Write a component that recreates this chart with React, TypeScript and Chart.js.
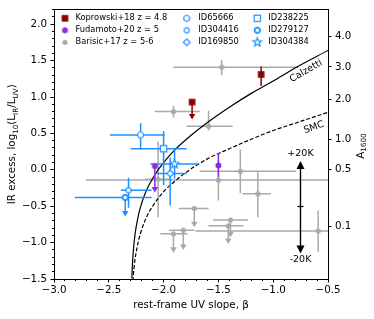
import React, { useEffect, useRef } from 'react';
import { Chart, registerables } from 'chart.js';

Chart.register(...registerables);

const FONT = '"DejaVu Sans", "Noto Sans", sans-serif';
const RED = '#8b0000';
const PURPLE = '#8a2be2';
const GRAY = '#a9a9a9';
const BLUE = '#1e90ff';

// ---------------- data ----------------
// Koprowski+18 z = 4.8
const kopBeta = [-1.11, -1.74];
const kopIRX = [1.31, 0.93];
const kopBetaErrLeft = [0, 0];
const kopBetaErrRight = [0, 0];
const kopIRXErrUp = [0.11, 0];
const kopIRXErrDown = [0.16, 0.24];
const kopUpperLimit = [false, true];

// Fudamoto+20 z = 5
const fudBeta = [-1.5, -2.08];
const fudIRX = [0.06, 0.05];
const fudBetaErrLeft = [0, 0];
const fudBetaErrRight = [0, 0];
const fudIRXErrUp = [0.17, 0];
const fudIRXErrDown = [0.16, 0.36];
const fudUpperLimit = [false, true];

// Barisic+17 z = 5-6
const barBeta = [-1.47, -1.91, -1.59, -1.3, -1.14, -1.5, -2.05, -0.59, -1.72, -1.39, -1.41, -1.91, -1.82];
const barIRX = [1.41, 0.8, 0.6, -0.02, -0.33, -0.14, -0.13, -0.84, -0.53, -0.69, -0.77, -0.88, -0.83];
const barBetaErrLeft = [0.44, 0.17, 0.2, 0.37, 0.14, 1.21, 0.12, 1.12, 0.14, 0.16, 0.18, 0.12, 0.13];
const barBetaErrRight = [0.7, 0.24, 0.22, 0.51, 0.12, 1.21, 0.12, 1.12, 0.13, 0.16, 0.14, 0.13, 0.1];
const barIRXErrUp = [0.1, 0.08, 0.21, 0.3, 0.3, 0.28, 0.52, 0.28, 0, 0, 0, 0, 0];
const barIRXErrDown = [0.11, 0.08, 0.06, 0.3, 0.32, 0.28, 0.52, 0.29, 0.26, 0.24, 0.25, 0.26, 0.27];
const barUpperLimit = [false, false, false, false, false, false, false, false, true, true, true, true, true];

// This work: individual IDs
const idNames = ['ID65666', 'ID304416', 'ID169850', 'ID238225', 'ID279127', 'ID304384'];
const idBeta = [-2.21, -2.32, -1.94, -2.0, -2.35, -1.9];
const idIRX = [0.48, -0.28, -0.05, 0.29, -0.38, 0.08];
const idBetaErrLeft = [0.28, 0.07, 0.14, 0.3, 0.46, 0.22];
const idBetaErrRight = [0.22, 0.21, 0.15, 0.21, 0.24, 0.22];
const idIRXErrUp = [0.16, 0.17, 0.22, 0.24, 0, 0.2];
const idIRXErrDown = [0.2, 0.24, 0.44, 0.5, 0.26, 0.2];
const idUpperLimit = [false, false, false, false, true, false];

// Dust curves
const calzettiBeta = [-2.29, -2.285, -2.28, -2.27, -2.26, -2.25, -2.24, -2.22, -2.2, -2.18, -2.15, -2.1, -2.05, -2.0, -1.9, -1.8, -1.6, -1.4, -1.2, -1.0, -0.8, -0.5];
const calzettiIRX = [-1.49, -1.32, -1.19, -1.01, -0.88, -0.78, -0.7, -0.56, -0.46, -0.37, -0.26, -0.12, 0.0, 0.1, 0.27, 0.41, 0.65, 0.86, 1.05, 1.22, 1.4, 1.64];
const smcBeta = [-2.28, -2.275, -2.27, -2.26, -2.25, -2.23, -2.2, -2.15, -2.1, -2.0, -1.9, -1.8, -1.6, -1.4, -1.2, -1.0, -0.8, -0.5];
const smcIRX = [-1.53, -1.43, -1.35, -1.22, -1.13, -0.98, -0.82, -0.63, -0.5, -0.3, -0.16, -0.04, 0.15, 0.29, 0.42, 0.54, 0.64, 0.79];

// Right axis A1600 ticks
const a1600Ticks = [0.1, 0.5, 1.0, 2.0, 3.0, 4.0];
const a1600Labels = ['0.1', '0.5', '1.0', '2.0', '3.0', '4.0'];
const irxFromA = (a: number) => Math.log10(1.75 * (Math.pow(10, 0.4 * a) - 1));

// Temperature arrow annotation
const tempArrowBeta = -0.75;
const tempArrowMid = -0.5;
const tempArrowTop = 0.12;
const tempArrowBottom = -1.15;
const tempLabels = ['+20K', '-20K'];

// Curve labels
const calzettiLabel = { text: 'Calzetti', beta: -0.7, irx: 1.356, angle: -30 };
const smcLabel = { text: 'SMC', beta: -0.628, irx: 0.581, angle: -19 };

// ---------------- markers ----------------
function mk(size: number, draw: (g: CanvasRenderingContext2D) => void) {
  const c = document.createElement('canvas');
  c.width = size;
  c.height = size;
  const g = c.getContext('2d')!;
  g.translate(size / 2, size / 2);
  draw(g);
  return c;
}
function polyPath(g: CanvasRenderingContext2D, pts: number[][]) {
  g.beginPath();
  pts.forEach(([px, py], i) => (i ? g.lineTo(px, py) : g.moveTo(px, py)));
  g.closePath();
}
function regular(n: number, r: number, rot: number) {
  const out: number[][] = [];
  for (let i = 0; i < n; i++) {
    const a = rot + (i * 2 * Math.PI) / n;
    out.push([r * Math.cos(a), r * Math.sin(a)]);
  }
  return out;
}
function starPts(ro: number, ri: number) {
  const out: number[][] = [];
  for (let i = 0; i < 10; i++) {
    const a = -Math.PI / 2 + (i * Math.PI) / 5;
    const r = i % 2 === 0 ? ro : ri;
    out.push([r * Math.cos(a), r * Math.sin(a)]);
  }
  return out;
}
function openShape(pts: number[][] | null, circleR: number, lw = 1.2) {
  return mk(13, (g) => {
    if (pts) polyPath(g, pts);
    else {
      g.beginPath();
      g.arc(0, 0, circleR, 0, Math.PI * 2);
    }
    g.fillStyle = '#fff';
    g.fill();
    g.strokeStyle = BLUE;
    g.lineWidth = lw;
    g.stroke();
  });
}
function buildMarkers() {
  const redSquare = mk(11, (g) => {
    g.fillStyle = RED;
    g.fillRect(-3.3, -3.3, 6.6, 6.6);
  });
  const purpleHex = mk(11, (g) => {
    polyPath(g, regular(6, 3.3, Math.PI / 2));
    g.fillStyle = PURPLE;
    g.fill();
  });
  const grayDot = mk(9, (g) => {
    g.beginPath();
    g.arc(0, 0, 2.6, 0, Math.PI * 2);
    g.fillStyle = GRAY;
    g.fill();
  });
  const ids = [
    openShape(null, 3.0),
    openShape(regular(6, 2.8, Math.PI / 2), 0),
    openShape(regular(4, 3.4, Math.PI / 2), 0),
    openShape([[-3.1, -3.1], [3.1, -3.1], [3.1, 3.1], [-3.1, 3.1]], 0),
    openShape(regular(8, 2.8, Math.PI / 8), 0, 1.8),
    openShape(starPts(4.6, 2.0), 0),
  ];
  return { redSquare, purpleHex, grayDot, ids };
}

// ---------------- helpers ----------------
const fmt = (v: number) => {
  const s = (Math.abs(v) < 1e-9 ? 0 : v).toFixed(1);
  return s.replace('-', '\u2212');
};
const alignPx = (p: number) => Math.round(p - 0.5) + 0.5;

function drawRich(ctx: CanvasRenderingContext2D, segs: { t: string; sub?: boolean }[], x: number, y: number, rot: number, size: number) {
  ctx.save();
  ctx.translate(x, y);
  ctx.rotate(rot);
  ctx.textBaseline = 'alphabetic';
  ctx.textAlign = 'left';
  ctx.fillStyle = '#000';
  let total = 0;
  const widths = segs.map((s) => {
    ctx.font = `${s.sub ? size * 0.7 : size}px ${FONT}`;
    const w = ctx.measureText(s.t).width;
    total += w;
    return w;
  });
  let cx = -total / 2;
  segs.forEach((s, i) => {
    ctx.font = `${s.sub ? size * 0.7 : size}px ${FONT}`;
    ctx.fillText(s.t, cx, s.sub ? size * 0.22 : 0);
    cx += widths[i];
  });
  ctx.restore();
}

const errorBarPlugin = {
  id: 'errorBars',
  beforeDatasetDraw(chart: any, args: any) {
    const ds = chart.data.datasets[args.index];
    const e = ds.err;
    if (!e) return;
    const { ctx, chartArea: a } = chart;
    const x = chart.scales.x;
    const y = chart.scales.y;
    ctx.save();
    ctx.beginPath();
    ctx.rect(a.left, a.top, a.right - a.left, a.bottom - a.top);
    ctx.clip();
    ctx.strokeStyle = e.color;
    ctx.fillStyle = e.color;
    ctx.lineWidth = e.width;
    e.beta.forEach((b: number, i: number) => {
      const v = e.irx[i];
      const px = x.getPixelForValue(b);
      const py = y.getPixelForValue(v);
      if (e.left[i] || e.right[i]) {
        ctx.beginPath();
        ctx.moveTo(x.getPixelForValue(b - e.left[i]), py);
        ctx.lineTo(x.getPixelForValue(b + e.right[i]), py);
        ctx.stroke();
      }
      if (e.limit[i]) {
        const end = y.getPixelForValue(v - e.down[i]);
        ctx.beginPath();
        ctx.moveTo(px, py);
        ctx.lineTo(px, end - 3);
        ctx.stroke();
        ctx.beginPath();
        ctx.moveTo(px - 3.3, end - 5.5);
        ctx.lineTo(px + 3.3, end - 5.5);
        ctx.lineTo(px, end);
        ctx.closePath();
        ctx.fill();
      } else if (e.up[i] || e.down[i]) {
        ctx.beginPath();
        ctx.moveTo(px, y.getPixelForValue(v + e.up[i]));
        ctx.lineTo(px, y.getPixelForValue(v - e.down[i]));
        ctx.stroke();
      }
    });
    ctx.restore();
  },
};

function makeDecorPlugin(markers: any) {
  return {
    id: 'decor',
    afterDraw(chart: any) {
      const { ctx, chartArea: a } = chart;
      const x = chart.scales.x;
      const y = chart.scales.y;
      ctx.save();
      ctx.strokeStyle = '#000';
      ctx.lineWidth = 1;
      // top spine
      ctx.beginPath();
      ctx.moveTo(a.left, alignPx(a.top));
      ctx.lineTo(a.right, alignPx(a.top));
      ctx.stroke();
      // minor ticks x
      for (let i = 0; i <= 25; i++) {
        if (i % 5 === 0) continue;
        const px = alignPx(x.getPixelForValue(-3 + i * 0.1));
        ctx.beginPath();
        ctx.moveTo(px, a.bottom);
        ctx.lineTo(px, a.bottom + 2);
        ctx.stroke();
      }
      // minor ticks y
      for (let i = 0; i <= 37; i++) {
        if (i % 5 === 0) continue;
        const py = alignPx(y.getPixelForValue(-1.5 + i * 0.1));
        ctx.beginPath();
        ctx.moveTo(a.left - 2, py);
        ctx.lineTo(a.left, py);
        ctx.stroke();
      }

      // axis titles
      drawRich(ctx, [{ t: 'IR excess, log' }, { t: '10', sub: true }, { t: '(L' }, { t: 'IR', sub: true }, { t: '/L' }, { t: 'UV', sub: true }, { t: ')' }], 15.3, (a.top + a.bottom) / 2, -Math.PI / 2, 10.3);
      drawRich(ctx, [{ t: 'A' }, { t: '1600', sub: true }], 364, 146, -Math.PI / 2, 10.3);
      drawRich(ctx, [{ t: 'rest-frame UV slope, \u03b2' }], (a.left + a.right) / 2, 308, 0, 10.3);

      // curve labels
      ctx.fillStyle = '#000';
      ctx.textAlign = 'center';
      ctx.textBaseline = 'middle';
      ctx.font = `9.5px ${FONT}`;
      [calzettiLabel, smcLabel].forEach((l) => {
        ctx.save();
        ctx.translate(x.getPixelForValue(l.beta), y.getPixelForValue(l.irx));
        ctx.rotate((l.angle * Math.PI) / 180);
        ctx.fillText(l.text, 0, 0);
        ctx.restore();
      });

      // temperature arrow
      const ax = alignPx(x.getPixelForValue(tempArrowBeta));
      const yTop = y.getPixelForValue(tempArrowTop);
      const yBot = y.getPixelForValue(tempArrowBottom);
      const yMid = alignPx(y.getPixelForValue(tempArrowMid));
      ctx.lineWidth = 1.4;
      ctx.beginPath();
      ctx.moveTo(ax, yTop + 6);
      ctx.lineTo(ax, yBot - 6);
      ctx.stroke();
      ctx.lineWidth = 1.2;
      ctx.beginPath();
      ctx.moveTo(ax - 3, yMid);
      ctx.lineTo(ax + 3, yMid);
      ctx.stroke();
      ctx.beginPath();
      ctx.moveTo(ax, yTop);
      ctx.lineTo(ax - 4, yTop + 8);
      ctx.lineTo(ax + 4, yTop + 8);
      ctx.closePath();
      ctx.fill();
      ctx.beginPath();
      ctx.moveTo(ax, yBot);
      ctx.lineTo(ax - 4, yBot - 8);
      ctx.lineTo(ax + 4, yBot - 8);
      ctx.closePath();
      ctx.fill();
      ctx.font = `9.5px ${FONT}`;
      ctx.fillText(tempLabels[0], ax, yTop - 7.5);
      ctx.fillText(tempLabels[1], ax, yBot + 6.5);

      // legend
      ctx.font = `8.3px ${FONT}`;
      ctx.textAlign = 'left';
      ctx.textBaseline = 'middle';
      const rows = [18.3, 30.3, 42.3];
      const col1 = [
        { m: markers.redSquare, t: 'Koprowski+18 z = 4.8' },
        { m: markers.purpleHex, t: 'Fudamoto+20 z = 5' },
        { m: markers.grayDot, t: 'Barisic+17 z = 5-6' },
      ];
      const cols = [
        { mx: 65, tx: 75.5, items: col1 },
        { mx: 186.7, tx: 198.3, items: [0, 1, 2].map((k) => ({ m: markers.ids[k], t: idNames[k] })) },
        { mx: 257.3, tx: 268.3, items: [3, 4, 5].map((k) => ({ m: markers.ids[k], t: idNames[k] })) },
      ];
      cols.forEach((c) => {
        c.items.forEach((it: any, r: number) => {
          ctx.drawImage(it.m, c.mx - it.m.width / 2, rows[r] - it.m.height / 2);
          ctx.fillText(it.t, c.tx, rows[r]);
        });
      });
      ctx.restore();
    },
  };
}

export default function App() {
  const ref = useRef<HTMLCanvasElement>(null);
  useEffect(() => {
    const canvas = ref.current!;
    const markers = buildMarkers();
    const pts = (bs: number[], vs: number[]) => bs.map((b, i) => ({ x: b, y: vs[i] }));
    const tickFont = { family: FONT, size: 10.3 };
    const chart = new Chart(canvas, {
      type: 'scatter',
      data: {
        datasets: [
          {
            label: 'Koprowski+18 z = 4.8',
            data: pts(kopBeta, kopIRX),
            pointStyle: markers.redSquare as any,
            pointRadius: 4,
            err: { beta: kopBeta, irx: kopIRX, left: kopBetaErrLeft, right: kopBetaErrRight, up: kopIRXErrUp, down: kopIRXErrDown, limit: kopUpperLimit, color: RED, width: 1.5 },
          } as any,
          {
            label: 'Fudamoto+20 z = 5',
            data: pts(fudBeta, fudIRX),
            pointStyle: markers.purpleHex as any,
            pointRadius: 4,
            err: { beta: fudBeta, irx: fudIRX, left: fudBetaErrLeft, right: fudBetaErrRight, up: fudIRXErrUp, down: fudIRXErrDown, limit: fudUpperLimit, color: PURPLE, width: 1.5 },
          } as any,
          {
            label: 'This work',
            data: pts(idBeta, idIRX),
            pointStyle: markers.ids as any,
            pointRadius: 4,
            err: { beta: idBeta, irx: idIRX, left: idBetaErrLeft, right: idBetaErrRight, up: idIRXErrUp, down: idIRXErrDown, limit: idUpperLimit, color: BLUE, width: 1.5 },
          } as any,
          {
            type: 'line',
            label: 'Calzetti',
            data: pts(calzettiBeta, calzettiIRX),
            borderColor: '#000',
            borderWidth: 1.2,
            pointRadius: 0,
            showLine: true,
            cubicInterpolationMode: 'monotone',
            fill: false,
          } as any,
          {
            type: 'line',
            label: 'SMC',
            data: pts(smcBeta, smcIRX),
            borderColor: '#000',
            borderWidth: 1.2,
            borderDash: [4, 2],
            pointRadius: 0,
            showLine: true,
            cubicInterpolationMode: 'monotone',
            fill: false,
          } as any,
          {
            label: 'Barisic+17 z = 5-6',
            data: pts(barBeta, barIRX),
            pointStyle: markers.grayDot as any,
            pointRadius: 3,
            err: { beta: barBeta, irx: barIRX, left: barBetaErrLeft, right: barBetaErrRight, up: barIRXErrUp, down: barIRXErrDown, limit: barUpperLimit, color: GRAY, width: 1.5 },
          } as any,
        ],
      },
      options: {
        responsive: false,
        devicePixelRatio: 1,
        animation: false,
        events: [],
        layout: { padding: { top: 7, left: 0, right: 0, bottom: 0 } },
        plugins: { legend: { display: false }, tooltip: { enabled: false } },
        scales: {
          x: {
            type: 'linear',
            position: 'bottom',
            min: -3,
            max: -0.5,
            afterFit: (s: any) => {
              s.height = 40;
            },
            ticks: { stepSize: 0.5, includeBounds: false, color: '#000', font: tickFont, padding: 2, maxRotation: 0, callback: (v: any) => fmt(Number(v)) },
            grid: { drawOnChartArea: false, drawTicks: true, tickLength: 3.5, tickColor: '#000', tickWidth: 1 },
            border: { display: true, color: '#000', width: 1 },
          },
          y: {
            type: 'linear',
            position: 'left',
            min: -1.5,
            max: 2.2,
            afterFit: (s: any) => {
              s.width = 54;
            },
            ticks: { stepSize: 0.5, includeBounds: false, color: '#000', font: tickFont, padding: 3.5, callback: (v: any) => fmt(Number(v)) },
            grid: { drawOnChartArea: false, drawTicks: true, tickLength: 3.5, tickColor: '#000', tickWidth: 1 },
            border: { display: true, color: '#000', width: 1 },
          },
          y2: {
            type: 'linear',
            position: 'right',
            min: -1.5,
            max: 2.2,
            afterFit: (s: any) => {
              s.width = 46;
            },
            afterBuildTicks: (s: any) => {
              s.ticks = a1600Ticks.map((a) => ({ value: irxFromA(a) }));
            },
            ticks: { color: '#000', font: tickFont, padding: 3.5, callback: (_v: any, i: number) => a1600Labels[i] },
            grid: { drawOnChartArea: false, drawTicks: true, tickLength: 3.5, tickColor: '#000', tickWidth: 1 },
            border: { display: true, color: '#000', width: 1 },
          },
        },
      } as any,
      plugins: [errorBarPlugin, makeDecorPlugin(markers)],
    });
    return () => chart.destroy();
  }, []);
  return (
    <div style={{ position: 'fixed', left: 0, top: 0, width: 374, height: 319, background: '#fff' }}>
      <canvas ref={ref} width={374} height={319} style={{ display: 'block', width: 374, height: 319 }} />
    </div>
  );
}
